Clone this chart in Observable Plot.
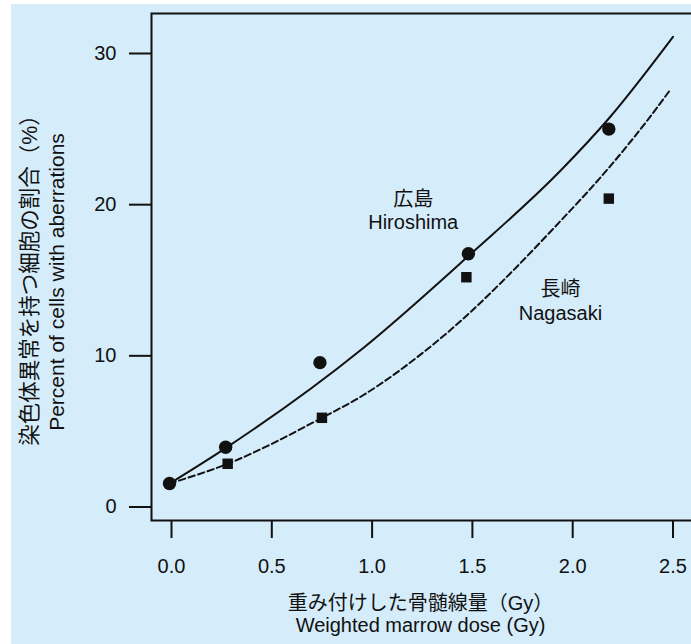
<!DOCTYPE html>
<html>
<head>
<meta charset="utf-8">
<script src="https://cdn.jsdelivr.net/npm/d3@7"></script>
<script src="https://cdn.jsdelivr.net/npm/@observablehq/plot@0.6"></script>
<style>
  html, body { margin: 0; padding: 0; background: #ffffff; overflow: hidden; }
  #panel { position: absolute; left: 11px; top: 4px; width: 680px; height: 640px; background: #d5ecfa; overflow: hidden; }
</style>
</head>
<body>
<div id="panel"></div>
<script>
// Observed aberration frequencies (dose in Gy, percent of cells)
const hiroDose = [-0.01, 0.27, 0.74, 1.48, 2.18];
const hiroPct  = [1.55, 3.95, 9.55, 16.75, 25.0];
const nagaDose = [0.28, 0.75, 1.47, 2.18];
const nagaPct  = [2.86, 5.9, 15.2, 20.4];

// Fitted dose-response curves, sampled along their length
const hiroFitDose = [-0.01, 0.27, 0.95, 1.48, 1.94, 2.18, 2.5];
const hiroFitPct  = [1.55, 3.9, 10.45, 16.6, 22.26, 25.7, 31.1];
const nagaFitDose = [-0.01, 0.28, 0.75, 0.94, 1.33, 1.94, 2.17, 2.38, 2.483];
const nagaFitPct  = [1.55, 2.86, 5.9, 7.27, 11.03, 18.93, 22.28, 25.71, 27.54];

// Axis ticks
const xTicks = [0, 0.5, 1.0, 1.5, 2.0, 2.5];
const yTicks = [0, 10, 20, 30];

// City names and axis titles
const cityJa = ["広島", "長崎"];
const cityEn = ["Hiroshima", "Nagasaki"];
const xTitleJa = "重み付けした骨髄線量（Gy）";
const xTitleEn = "Weighted marrow dose (Gy)";
const yTitleJa = "染色体異常を持つ細胞の割合（%）";
const yTitleEn = "Percent of cells with aberrations";

// Where the city names sit, in data units
const cityLabelDose = [1.205, 1.939];
const cityLabelPctJa = [20.35, 14.35];
const cityLabelPctEn = [18.79, 12.77];

const ink = "#111111";
const font = '"Liberation Sans", Arimo, "Noto Sans CJK JP", sans-serif';

const hiro = hiroDose.map((d, i) => ({dose: d, pct: hiroPct[i]}));
const naga = nagaDose.map((d, i) => ({dose: d, pct: nagaPct[i]}));
const hiroFit = hiroFitDose.map((d, i) => ({dose: d, pct: hiroFitPct[i]}));
const nagaFit = nagaFitDose.map((d, i) => ({dose: d, pct: nagaFitPct[i]}));

const chart = Plot.plot({
  width: 680,
  height: 640,
  marginLeft: 140,
  marginTop: 9,
  marginRight: -2,
  marginBottom: 124,
  style: {background: "transparent", color: ink, fontFamily: font, fontSize: "20px", overflow: "hidden"},
  x: {domain: [0, 2.5], range: [160, 661.5]},
  y: {domain: [0, 30], range: [502.5, 49]},
  marks: [
    Plot.frame({stroke: ink, strokeWidth: 2}),
    Plot.axisX({ticks: xTicks, tickFormat: d3.format(".1f"), tickSize: 18, tickPadding: 20,
                strokeWidth: 2, fontSize: 20, label: null}),
    Plot.axisY({ticks: yTicks, tickSize: 22, tickPadding: 13,
                strokeWidth: 2, fontSize: 20, label: null}),
    Plot.line(hiroFit, {x: "dose", y: "pct", curve: "monotone-x", stroke: ink, strokeWidth: 2}),
    Plot.line(nagaFit, {x: "dose", y: "pct", curve: "monotone-x", stroke: ink, strokeWidth: 2,
                        strokeDasharray: "6.5,3.5"}),
    Plot.dot(hiro, {x: "dose", y: "pct", r: 6.7, fill: ink, stroke: null, symbol: "circle"}),
    Plot.dot(naga, {x: "dose", y: "pct", r: 5.9, fill: ink, stroke: null, symbol: "square"}),
    Plot.text(cityJa, {x: cityLabelDose, y: cityLabelPctJa, fontSize: 20, fill: ink}),
    Plot.text(cityEn, {x: cityLabelDose, y: cityLabelPctEn, fontSize: 20, fill: ink}),
    Plot.text([xTitleJa], {frameAnchor: "bottom", textAnchor: "middle", lineAnchor: "middle",
                           dx: -2, dy: 83, fontSize: 20, fill: ink}),
    Plot.text([xTitleEn], {frameAnchor: "bottom", textAnchor: "middle", lineAnchor: "middle",
                           dx: -2, dy: 105, fontSize: 20, fill: ink}),
    Plot.text([yTitleJa], {frameAnchor: "left", rotate: -90, textAnchor: "middle", lineAnchor: "middle",
                           dx: -121, dy: 8, fontSize: 21.5, fill: ink}),
    Plot.text([yTitleEn], {frameAnchor: "left", rotate: -90, textAnchor: "middle", lineAnchor: "middle",
                           dx: -94, dy: 15, fontSize: 21, fill: ink})
  ]
});

document.getElementById("panel").appendChild(chart);
</script>
</body>
</html>
